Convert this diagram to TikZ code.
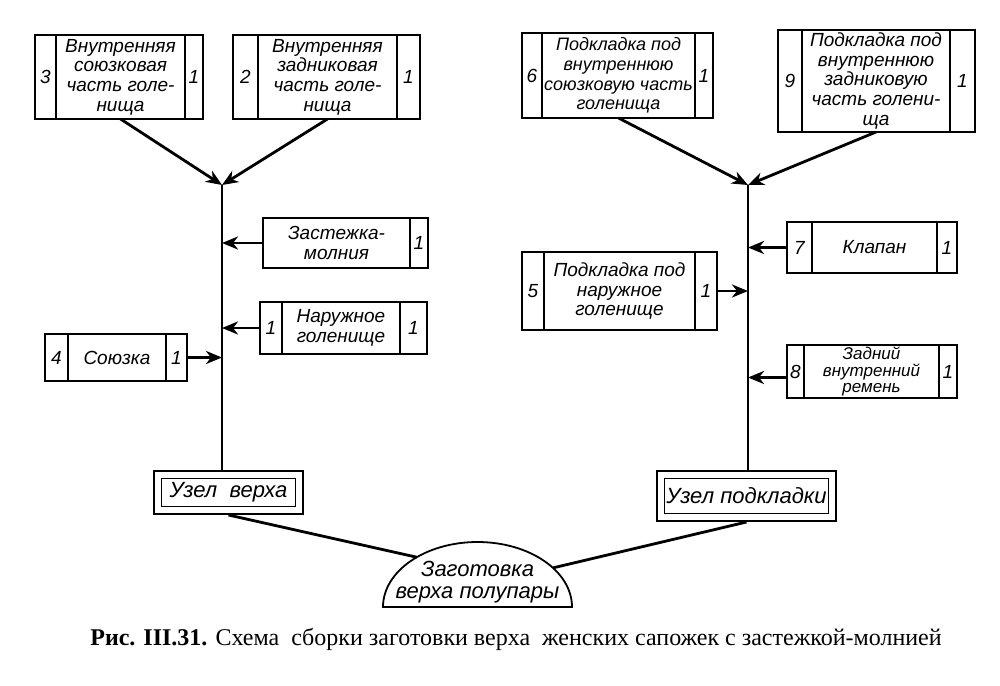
\documentclass[tikz,border=0pt]{standalone}
\usepackage{fontspec}
\setmainfont{Liberation Serif}
\newfontfamily\handfont{Liberation Sans}
\usetikzlibrary{arrows.meta, positioning}
\tikzstyle{cell} = [rectangle, draw=black, line width=0.8pt, outer sep=0pt, inner sep=1pt, align=center, font=\handfont\itshape\fontsize{9.5}{9.8}\selectfont]
\tikzstyle{uzel} = [cell, double, double distance=3pt, outer sep=2.3pt, font=\handfont\itshape\fontsize{11}{12}\selectfont]
\tikzstyle{arrow} = [->, >={Stealth[length=8pt, width=6.5pt, inset=2.5pt]}, line width=1.4pt]
\tikzstyle{link} = [line width=1.4pt]

\begin{document}
\begin{tikzpicture}[x=0.5pt, y=0.5pt]
        \useasboundingbox (0,0) rectangle (1000,-685);

        % upper boxes
        \node[cell, minimum width=64.5pt, minimum height=42pt] (vsoyuz) at (120.5,-77) {Внутренняя\\союзковая\\часть голе-\\нища};
        \node[cell, minimum width=10.5pt, minimum height=42pt, left=0pt of vsoyuz] (vsoyuz-n) {3};
        \node[cell, minimum width=9pt, minimum height=42pt, right=0pt of vsoyuz] (vsoyuz-k) {1};

        \node[cell, minimum width=69.5pt, minimum height=42pt] (vzadn) at (327.5,-77) {Внутренняя\\задниковая\\часть голе-\\нища};
        \node[cell, minimum width=12.5pt, minimum height=42pt, left=0pt of vzadn] (vzadn-n) {2};
        \node[cell, minimum width=11.5pt, minimum height=42pt, right=0pt of vzadn] (vzadn-k) {1};

        \node[cell, minimum width=76.5pt, minimum height=42.5pt, font=\handfont\itshape\fontsize{9}{9.8}\selectfont] (psoyuz) at (618.5,-75.5) {Подкладка под\\внутреннюю\\союзковую часть\\голенища};
        \node[cell, minimum width=10pt, minimum height=42.5pt, left=0pt of psoyuz] (psoyuz-n) {6};
        \node[cell, minimum width=9pt, minimum height=42.5pt, right=0pt of psoyuz] (psoyuz-k) {1};

        \node[cell, minimum width=74pt, minimum height=51pt] (pzadn) at (876,-81) {Подкладка под\\внутреннюю\\задниковую\\часть голени-\\ща};
        \node[cell, minimum width=12pt, minimum height=51pt, left=0pt of pzadn] (pzadn-n) {9};
        \node[cell, minimum width=12.5pt, minimum height=51pt, right=0pt of pzadn] (pzadn-k) {1};

        % left side
        \node[cell, minimum width=73.5pt, minimum height=25pt] (zast) at (336.5,-243) {Застежка-\\молния};
        \node[cell, minimum width=9pt, minimum height=25pt, right=0pt of zast] (zast-k) {1};

        \node[cell, minimum width=59pt, minimum height=26pt] (narg) at (341,-328) {Наружное\\голенище};
        \node[cell, minimum width=11pt, minimum height=26pt, left=0pt of narg] (narg-n) {1};
        \node[cell, minimum width=13.5pt, minimum height=26pt, right=0pt of narg] (narg-k) {1};

        \node[cell, minimum width=49pt, minimum height=23.5pt] (soyuzka) at (117,-357.5) {Союзка};
        \node[cell, minimum width=11.5pt, minimum height=23.5pt, left=0pt of soyuzka] (soyuzka-n) {4};
        \node[cell, minimum width=10.5pt, minimum height=23.5pt, right=0pt of soyuzka] (soyuzka-k) {1};

        % right side
        \node[cell, minimum width=62.5pt, minimum height=25.5pt] (klapan) at (874.5,-247.5) {Клапан};
        \node[cell, minimum width=12.5pt, minimum height=25.5pt, left=0pt of klapan] (klapan-n) {7};
        \node[cell, minimum width=10pt, minimum height=25.5pt, right=0pt of klapan] (klapan-k) {1};

        \node[cell, minimum width=75.5pt, minimum height=39pt] (pnarg) at (619.5,-291) {Подкладка под\\наружное\\голенище};
        \node[cell, minimum width=11pt, minimum height=39pt, left=0pt of pnarg] (pnarg-n) {5};
        \node[cell, minimum width=11pt, minimum height=39pt, right=0pt of pnarg] (pnarg-k) {1};

        \node[cell, minimum width=67.5pt, minimum height=26.5pt, font=\handfont\itshape\fontsize{8.5}{8.3}\selectfont, inner sep=0.3pt] (remen) at (871.5,-371.5) {Задний\\внутренний\\ремень};
        \node[cell, minimum width=8.5pt, minimum height=26.5pt, left=0pt of remen] (remen-n) {8};
        \node[cell, minimum width=9pt, minimum height=26.5pt, right=0pt of remen] (remen-k) {1};

        % assemblies
        \node[uzel, minimum width=70.9pt, minimum height=17.9pt] (uzv) at (228.5,-492.5) {Узел\ \ верха};
        \node[uzel, minimum width=85.9pt, minimum height=21.4pt] (uzp) at (746.5,-496) {Узел подкладки};

        \coordinate (zag-c) at (477.5,-607);
        \draw[line width=0.9pt] (zag-c) ++(-94.5,0) arc[start angle=180, end angle=0, x radius=47.25pt, y radius=32.5pt] -- cycle;
        \node[font=\handfont\itshape\fontsize{11}{11}\selectfont, align=center] (zag) at (477.5,-582) {Заготовка\\верха полупары};
        \path (zag-c) ++(130:47.25pt and 32.5pt) coordinate (zag-l);
        \path (zag-c) ++(37:47.25pt and 32.5pt) coordinate (zag-r);

        \coordinate (jl) at (222,-185);
        \coordinate (jr) at (748,-185);

        \draw[arrow] (vsoyuz.south) -- (jl);
        \draw[arrow] (vzadn.south) -- (jl);
        \draw[link] (jl) -- (jl |- uzv.north);
        \draw[arrow] (zast.west) -- (zast.west -| jl);
        \draw[arrow] (narg-n.west) -- (narg-n.west -| jl);
        \draw[arrow] (soyuzka-k.east) -- (soyuzka-k.east -| jl);

        \draw[arrow] (psoyuz.south) -- (jr);
        \draw[arrow] (pzadn.south) -- (jr);
        \draw[link] (jr) -- (jr |- uzp.north);
        \draw[arrow] (klapan-n.west) -- (klapan-n.west -| jr);
        \draw[arrow] (pnarg-k.east) -- (pnarg-k.east -| jr);
        \draw[arrow] ([yshift=-3pt]remen-n.west) -- ([yshift=-3pt]remen-n.west -| jr);

        \draw[link] (uzv.south) -- (zag-l);
        \draw[link] (uzp.south) -- (zag-r);

        \node[font=\fontsize{12}{14}\selectfont] (caption) at (516,-639) {\textbf{Рис. III.31.} Схема\ \ сборки заготовки верха\ \ женских сапожек с застежкой-молнией};
\end{tikzpicture}
\end{document}
